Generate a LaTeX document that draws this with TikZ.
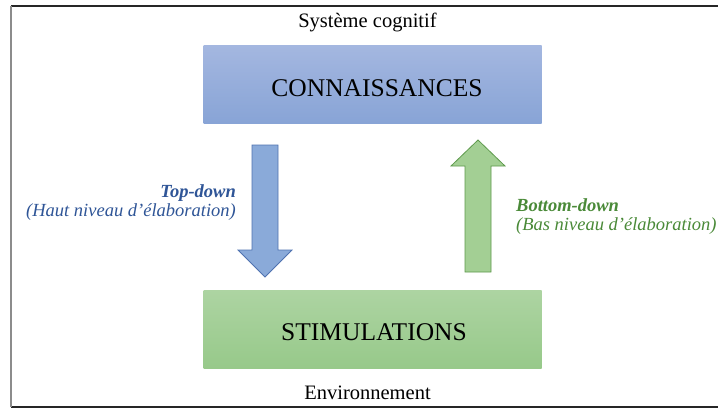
\documentclass[tikz,border=0pt]{standalone}
\usepackage{fontspec}
\setmainfont{Liberation Serif}
\definecolor{bluetop}{HTML}{A4B7E0}
\definecolor{bluebot}{HTML}{88A4D6}
\definecolor{greentop}{HTML}{ADD4A2}
\definecolor{greenbot}{HTML}{97C98A}
\definecolor{bluearrow}{HTML}{8AAAD9}
\definecolor{blueedge}{HTML}{4F72B0}
\definecolor{greenarrow}{HTML}{A3CF94}
\definecolor{greenedge}{HTML}{5E9A4C}
\definecolor{bluetext}{HTML}{2F5597}
\definecolor{greentext}{HTML}{4A8A38}
\tikzset{
  box/.style={minimum width=338pt, minimum height=78pt, inner sep=0pt},
  boxtext/.style={font=\fontsize{25.5}{30}\selectfont, inner sep=0pt},
  plain/.style={font=\fontsize{20.5}{24}\selectfont, inner sep=0pt},
  lbl/.style={font=\fontsize{18.5}{19}\selectfont\itshape, inner sep=0pt},
  blockarrow/.style={line width=0.8pt, line join=miter}
}
\begin{document}
\begin{tikzpicture}[x=1pt,y=-1pt]
\useasboundingbox (0,0) rectangle (718,408);
\fill[white] (0,0) rectangle (718,408);
% frame
\draw[black!85, line width=1.6pt] (11,6) -- (718,6);
\draw[black!85, line width=1.6pt] (11,407) -- (718,407);
\draw[black!45, line width=1.8pt] (11,6) -- (11,407);
% boxes
\node[box, top color=bluetop, bottom color=bluebot] (conn) at (372.5,84) {};
\node[boxtext, anchor=base] (conntext) at (377,96.5) {CONNAISSANCES};
\node[box, top color=greentop, bottom color=greenbot] (stim) at (372.5,329) {};
\node[boxtext, anchor=base] (stimtext) at (374,340) {STIMULATIONS};
\node[plain] (sys) at (367.5,22) {Système cognitif};
\node[plain] (env) at (367.5,393) {Environnement};
% down arrow
\draw[blockarrow, draw=blueedge, fill=bluearrow]
  (252,145) -- (278,145) -- (278,250) -- (292,250) -- (265,277) -- (238,250) -- (252,250) -- cycle;
% up arrow
\draw[blockarrow, draw=greenedge, fill=greenarrow]
  (465,272) -- (491,272) -- (491,166) -- (505,166) -- (478,140) -- (451,166) -- (465,166) -- cycle;
% labels
\node[lbl, text=bluetext, anchor=base east] (td1) at (236,197.5) {\textbf{Top-down}};
\node[lbl, text=bluetext, anchor=base east] (td2) at (236,216.5) {(Haut niveau d’élaboration)};
\node[lbl, text=greentext, anchor=base west] (bd1) at (516,211.5) {\textbf{Bottom-down}};
\node[lbl, text=greentext, anchor=base west] (bd2) at (516,230.5) {(Bas niveau d’élaboration)};
\end{tikzpicture}
\end{document}
